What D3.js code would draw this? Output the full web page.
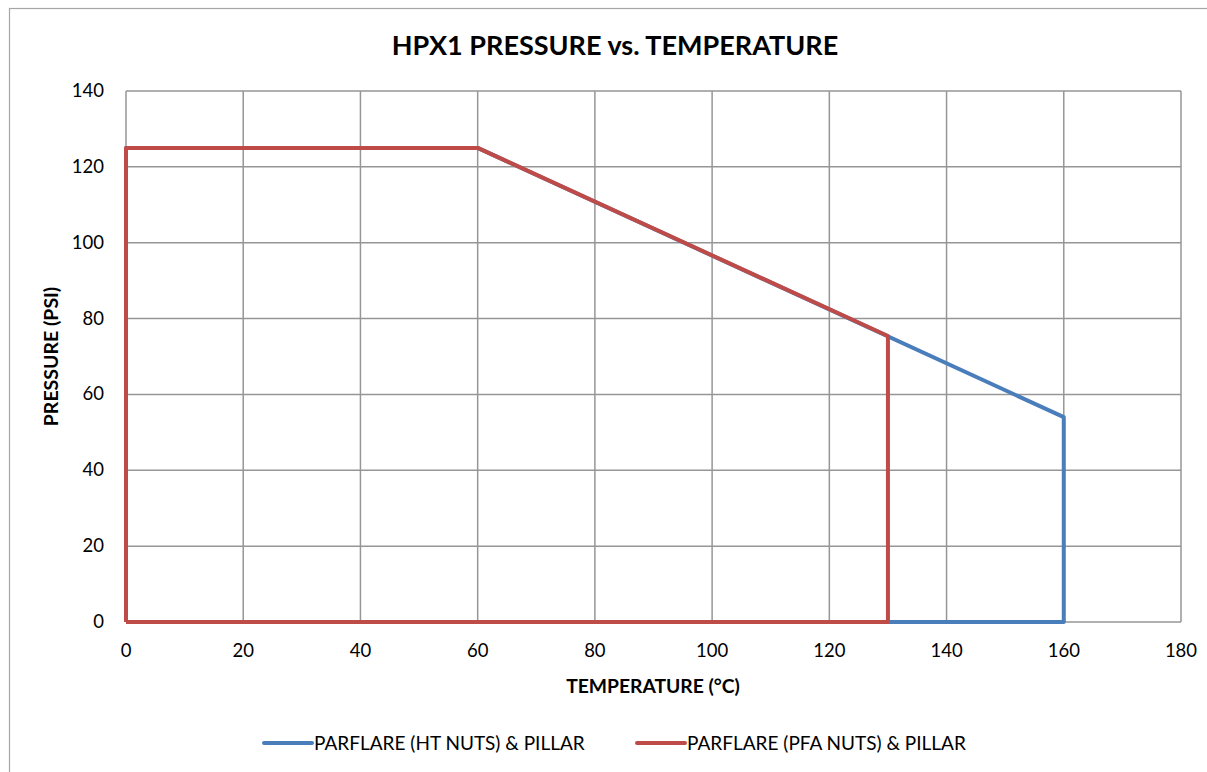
<!DOCTYPE html>
<html>
<head>
<meta charset="utf-8">
<script src="https://cdn.jsdelivr.net/npm/d3@7"></script>
<style>
  body { margin: 0; background: #fff; }
  svg { display: block; font-family: Lato, 'Open Sans', sans-serif; }
</style>
</head>
<body>
<script>
const title = 'HPX1 PRESSURE vs. TEMPERATURE';
const xTicks = [0, 20, 40, 60, 80, 100, 120, 140, 160, 180];
const yTicks = [0, 20, 40, 60, 80, 100, 120, 140];

// outline of each rating curve (temperature, pressure)
const htTemp = [0, 0, 60, 160, 160, 0];
const htPress = [0, 125, 125, 54, 0, 0];
const pfaTemp = [0, 0, 60, 130, 130, 0];
const pfaPress = [0, 125, 125, 75.4, 0, 0];

const seriesNames = ['PARFLARE (HT NUTS) & PILLAR', 'PARFLARE (PFA NUTS) & PILLAR'];
const seriesColors = ['#4a7ebb', '#be4b48'];

const width = 1207;
const height = 772;
const margin = { top: 91, right: 26, bottom: 150, left: 126 };

const svg = d3.select('body')
    .append('svg')
    .attr('width', width)
    .attr('height', height);

// chart frame
svg.append('rect')
    .attr('x', 9.5)
    .attr('y', 8.5)
    .attr('width', width + 20)
    .attr('height', height + 20)
    .attr('fill', 'none')
    .attr('stroke', '#a6a6a6')
    .attr('stroke-width', 1.2);

const x = d3.scaleLinear()
    .domain([0, 180])
    .range([margin.left, width - margin.right]);

const y = d3.scaleLinear()
    .domain([0, 140])
    .range([height - margin.bottom, margin.top]);

// grid
svg.append('g')
    .selectAll('line')
    .data(xTicks)
    .join('line')
    .attr('x1', d => x(d))
    .attr('x2', d => x(d))
    .attr('y1', y(0))
    .attr('y2', y(140))
    .attr('stroke', '#969696')
    .attr('stroke-width', 1.5);

svg.append('g')
    .selectAll('line')
    .data(yTicks)
    .join('line')
    .attr('x1', x(0))
    .attr('x2', x(180))
    .attr('y1', d => y(d))
    .attr('y2', d => y(d))
    .attr('stroke', '#969696')
    .attr('stroke-width', 1.5);

// tick labels
svg.append('g')
    .selectAll('text')
    .data(xTicks)
    .join('text')
    .attr('x', d => x(d))
    .attr('y', y(0) + 35)
    .attr('text-anchor', 'middle')
    .attr('font-size', 18.5)
    .attr('fill', '#000')
    .text(d => d);

svg.append('g')
    .selectAll('text')
    .data(yTicks)
    .join('text')
    .attr('x', x(0) - 22)
    .attr('y', d => y(d) + 6)
    .attr('text-anchor', 'end')
    .attr('font-size', 18.5)
    .attr('fill', '#000')
    .text(d => d);

// series
const line = d3.line()
    .x(d => x(d[0]))
    .y(d => y(d[1]));

const series = [
    d3.zip(htTemp, htPress),
    d3.zip(pfaTemp, pfaPress)
];

svg.append('g')
    .selectAll('path')
    .data(series)
    .join('path')
    .attr('d', line)
    .attr('fill', 'none')
    .attr('stroke', (d, i) => seriesColors[i])
    .attr('stroke-width', 4)
    .attr('stroke-linejoin', 'round');

// titles
svg.append('text')
    .attr('x', 615)
    .attr('y', 55)
    .attr('text-anchor', 'middle')
    .attr('font-size', 27)
    .attr('font-weight', 'bold')
    .text(title);

svg.append('text')
    .attr('x', 653)
    .attr('y', 693)
    .attr('text-anchor', 'middle')
    .attr('font-size', 19.3)
    .attr('font-weight', 'bold')
    .text('TEMPERATURE (°C)');

svg.append('text')
    .attr('transform', `translate(58, ${(y(0) + y(140)) / 2}) rotate(-90)`)
    .attr('text-anchor', 'middle')
    .attr('font-size', 19.5)
    .attr('font-weight', 'bold')
    .text('PRESSURE (PSI)');

// legend
const legendX = [264, 637];
const legend = svg.append('g')
    .selectAll('g')
    .data(seriesNames)
    .join('g')
    .attr('transform', (d, i) => `translate(${legendX[i]}, 743)`);

legend.append('line')
    .attr('x1', 0)
    .attr('x2', 48)
    .attr('stroke', (d, i) => seriesColors[i])
    .attr('stroke-width', 4)
    .attr('stroke-linecap', 'round');

legend.append('text')
    .attr('x', 50)
    .attr('y', 7)
    .attr('font-size', 19)
    .text(d => d);
</script>
</body>
</html>
